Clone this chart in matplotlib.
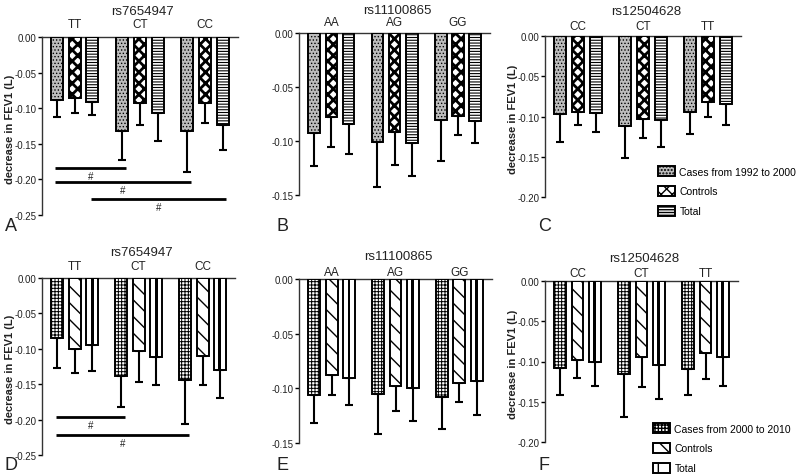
import matplotlib
matplotlib.use('Agg')
import matplotlib.pyplot as plt
import numpy as np
from matplotlib.patches import Patch
from matplotlib.transforms import Bbox, TransformedBbox

plt.rcParams['font.family'] = ['Liberation Sans', 'DejaVu Sans']
plt.rcParams['axes.unicode_minus'] = False

# ---------------- data ----------------
series_top = ['Cases from 1992 to 2000', 'Controls', 'Total']
series_bot = ['Cases from 2000 to 2010', 'Controls', 'Total']
snps = ['rs7654947', 'rs11100865', 'rs12504628']
genotypes_1 = ['TT', 'CT', 'CC']
genotypes_2 = ['AA', 'AG', 'GG']
genotypes_3 = ['CC', 'CT', 'TT']
panel_letters = ['A', 'B', 'C', 'D', 'E', 'F']

# rows = genotype, columns = series (cases, controls, total)
A_mean = [[-0.088, -0.086, -0.091], [-0.132, -0.093, -0.107], [-0.132, -0.092, -0.124]]
A_err = [[0.025, 0.021, 0.019], [0.041, 0.031, 0.039], [0.058, 0.029, 0.035]]
B_mean = [[-0.093, -0.078, -0.084], [-0.101, -0.092, -0.102], [-0.081, -0.077, -0.082]]
B_err = [[0.030, 0.028, 0.028], [0.042, 0.030, 0.031], [0.038, 0.018, 0.020]]
C_mean = [[-0.097, -0.095, -0.096], [-0.112, -0.103, -0.104], [-0.094, -0.082, -0.085]]
C_err = [[0.034, 0.016, 0.023], [0.039, 0.024, 0.034], [0.028, 0.019, 0.025]]
D_mean = [[-0.085, -0.100, -0.095], [-0.138, -0.104, -0.112], [-0.144, -0.111, -0.130]]
D_err = [[0.042, 0.035, 0.036], [0.044, 0.043, 0.040], [0.062, 0.040, 0.040]]
E_mean = [[-0.106, -0.088, -0.091], [-0.105, -0.098, -0.100], [-0.108, -0.095, -0.093]]
E_err = [[0.026, 0.018, 0.024], [0.037, 0.023, 0.030], [0.029, 0.018, 0.032]]
F_mean = [[-0.108, -0.098, -0.101], [-0.115, -0.095, -0.104], [-0.109, -0.089, -0.095]]
F_err = [[0.033, 0.022, 0.030], [0.054, 0.037, 0.043], [0.032, 0.033, 0.036]]

# significance brackets: (genotype i, series i, genotype j, series j, level)
A_sig = [(0, 0, 1, 0, -0.184), (0, 0, 2, 0, -0.204), (0, 2, 2, 2, -0.228)]
D_sig = [(0, 0, 1, 0, -0.197), (0, 0, 2, 0, -0.222)]

# ---------------- layout ----------------
W, H = 800, 477
fig = plt.figure(figsize=(W / 100, H / 100), dpi=100)

G = 3.68       # group spacing in bar units
BW = 0.68      # bar width
MARGIN = 0.865


def px_axes(l, r, t, b):
    return fig.add_axes([l / W, 1 - b / H, (r - l) / W, (b - t) / H])


top_styles = [
    dict(facecolor='#bdbdbd', hatch='.....', hlw=0.6),
    dict(facecolor='white', hatch='xxx', hlw=2.0),
    dict(facecolor='white', hatch='------', hlw=0.8),
]
bot_styles = [
    dict(facecolor='white', hatch='+++++', hlw=0.7),
    dict(facecolor='white', hatch='\\\\', hlw=1.0),
    dict(facecolor='white', hatch=None, hlw=1.0),
]

panels = [
    ('A', A_mean, A_err, snps[0], genotypes_1, -0.25, (41.7, 238, 38.3, 215.7), top_styles, 26.6, 13.0, A_sig, False),
    ('B', B_mean, B_err, snps[1], genotypes_2, -0.15, (299.3, 490, 34.0, 195.7), top_styles, 23.0, 10.5, None, True),
    ('C', C_mean, C_err, snps[2], genotypes_3, -0.20, (545, 741, 36.7, 198.3), top_styles, 24.7, 9.7, None, False),
    ('D', D_mean, D_err, snps[0], genotypes_1, -0.25, (42.3, 235, 278.7, 456), bot_styles, 26.0, 11.7, D_sig, False),
    ('E', E_mean, E_err, snps[1], genotypes_2, -0.15, (299.3, 491.7, 280.3, 443.7), bot_styles, 23.3, 6.8, None, True),
    ('F', F_mean, F_err, snps[2], genotypes_3, -0.20, (545, 738, 282, 443), bot_styles, 23.3, 8.3, None, False),
]

letter_pos = {'A': (5, 231), 'B': (276, 231), 'C': (538, 231),
              'D': (5, 470), 'E': (276, 470), 'F': (538, 470)}

for (letter, means, errs, snp, genos, ymin, box, styles, toff, goff, sig, clip_lab) in panels:
    l, r, t, b = box
    ax = px_axes(l, r, t, b)
    means = np.array(means)
    errs = np.array(errs)
    ng, ns = means.shape
    centers = np.arange(ng) * G
    for s in range(ns):
        xs = centers + (s - 1)
        st = styles[s]
        with plt.rc_context({'hatch.linewidth': st['hlw'], 'hatch.color': 'black'}):
            ax.bar(xs, means[:, s], width=BW, facecolor=st['facecolor'], edgecolor='black',
                   linewidth=1.4, hatch=st['hatch'], zorder=3)
        if st['hatch'] is None:
            ax.bar(xs, means[:, s], width=0.17, color='black', linewidth=0, zorder=4)
        ax.errorbar(xs, means[:, s], yerr=[errs[:, s], np.zeros(ng)], fmt='none', ecolor='black',
                    elinewidth=1.5, capsize=2.9, capthick=1.5, zorder=2)

    ax.set_xlim(-1 - MARGIN, (ng - 1) * G + 1 + MARGIN)
    ax.set_ylim(ymin, 0)
    ticks = np.arange(0, ymin - 1e-9, -0.05)
    ax.set_yticks(ticks)
    ax.set_yticklabels(['%.2f' % v if abs(v) > 1e-9 else '0.00' for v in ticks],
                       fontsize=7, color='#222222')
    ax.tick_params(axis='y', direction='out', length=3.0, width=1.0, pad=1.0)
    ax.set_xticks([])
    for sp in ['right', 'bottom']:
        ax.spines[sp].set_visible(False)
    for sp in ['left', 'top']:
        ax.spines[sp].set_linewidth(1.0)
        ax.spines[sp].set_color('#333333')
    ax.patch.set_visible(False)

    ax.annotate(snp, xy=(centers[1], 1), xycoords=('data', 'axes fraction'),
                xytext=(2, toff * 0.72), textcoords='offset points', ha='center', va='center',
                fontsize=9.5, color='#222222')
    for gi, gname in enumerate(genos):
        ax.annotate(gname, xy=(centers[gi], 1), xycoords=('data', 'axes fraction'),
                    xytext=(0, goff * 0.72), textcoords='offset points', ha='center', va='center',
                    fontsize=8.5, color='#222222')

    ylx = l - 32
    ymid = (t + b) / 2 + 2
    txt = fig.text(ylx / W, 1 - ymid / H, 'decrease in FEV1 (L)', rotation=90, ha='center', va='center',
                   fontsize=8, fontweight='bold', color='#222222')
    if clip_lab:
        txt.set_clip_on(True)
        txt.set_clip_box(TransformedBbox(Bbox.from_extents(271 / W, 0, 1, 1), fig.transFigure))

    if sig:
        for (g1, s1, g2, s2, lev) in sig:
            x1 = centers[g1] + (s1 - 1) - 0.1
            x2 = centers[g2] + (s2 - 1) + 0.2
            ax.plot([x1, x2], [lev, lev], color='black', lw=2.0, solid_capstyle='butt', zorder=5,
                    clip_on=False)
            ax.text((x1 + x2) / 2, lev - 0.004, '#', ha='center', va='top', fontsize=7, color='#222222')

    lx, ly = letter_pos[letter]
    fig.text(lx / W, 1 - ly / H, letter, ha='left', va='baseline', fontsize=13, color='#222222')


def legend_handles(styles, labels):
    hs = []
    for st, lab in zip(styles, labels):
        lw = st['hlw'] if st['hatch'] != 'xxx' else 1.6
        with plt.rc_context({'hatch.linewidth': lw}):
            hs.append(Patch(facecolor=st['facecolor'], edgecolor='black', linewidth=1.4,
                            hatch=st['hatch'] if st['hatch'] else '|', label=lab))
    return hs


leg_kw = dict(loc='upper left', frameon=False, fontsize=7.5,
              handlelength=1.6, handleheight=1.1, labelspacing=0.9, handletextpad=0.45,
              borderpad=0, borderaxespad=0)
leg1 = fig.legend(handles=legend_handles(top_styles, series_top),
                  bbox_to_anchor=(658 / W, 1 - 167 / H), **leg_kw)
leg2 = fig.legend(handles=legend_handles(bot_styles, series_bot),
                  bbox_to_anchor=(653 / W, 1 - 424 / H), **leg_kw)

fig.savefig('out.png', dpi=100)
